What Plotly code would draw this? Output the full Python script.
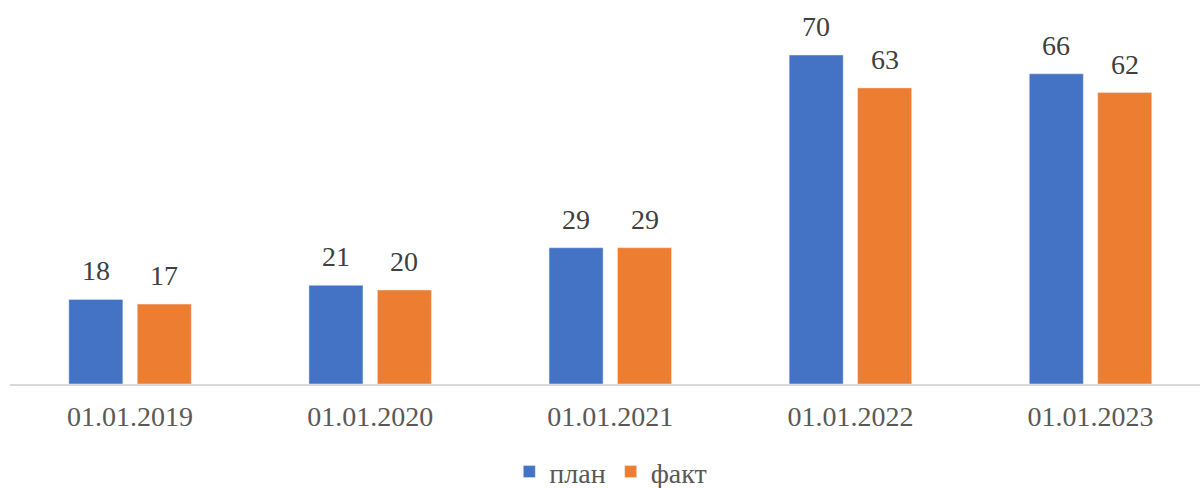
import plotly.graph_objects as go

categories = ["01.01.2019", "01.01.2020", "01.01.2021", "01.01.2022", "01.01.2023"]
plan = [18, 21, 29, 70, 66]
fact = [17, 20, 29, 63, 62]

FONT = "Liberation Serif"
idx = list(range(len(categories)))

BARGAP = 0.43
GROUPGAP = 0.2105
slot = (1 - BARGAP) / 2  # width of each bar slot in category units

fig = go.Figure()
fig.add_trace(go.Bar(name="план", x=idx, y=plan, marker_color="#4472C4"))
fig.add_trace(go.Bar(name="факт", x=idx, y=fact, marker_color="#ED7D31"))

annotations = []
for i, (p, f) in enumerate(zip(plan, fact)):
    for val, off in ((p, -slot / 2), (f, slot / 2)):
        annotations.append(dict(
            x=i + off, y=val, xref="x", yref="y", text=str(val),
            showarrow=False, yanchor="bottom", yshift=11,
            font=dict(family=FONT, size=28, color="#404040"),
        ))

fig.update_layout(
    width=1200, height=488,
    margin=dict(l=10, r=0, t=8, b=104, pad=0),
    barmode="group", bargap=BARGAP, bargroupgap=GROUPGAP,
    plot_bgcolor="white", paper_bgcolor="white",
    font=dict(family=FONT, size=28, color="#595959"),
    showlegend=True,
    legend=dict(orientation="h", xref="container", yref="container",
                x=0.509, xanchor="center", y=0.033, yanchor="middle",
                font=dict(family=FONT, size=28, color="#595959"),
                itemwidth=30, traceorder="normal"),
    annotations=annotations,
)
fig.update_xaxes(
    range=[-0.5, 4.456], automargin=False,
    tickmode="array", tickvals=idx, ticktext=categories,
    showline=True, linecolor="#D9D9D9", linewidth=1.5,
    showgrid=False, zeroline=False, ticks="outside", ticklen=7, tickcolor="rgba(0,0,0,0)",
    tickfont=dict(family=FONT, size=28, color="#595959"),
)
fig.update_yaxes(range=[0, 80], automargin=False, showgrid=False, showticklabels=False,
                 zeroline=False, showline=False)

fig.write_html("out.html", config={"displayModeBar": False},
               post_script="document.body.style.margin='0';")
